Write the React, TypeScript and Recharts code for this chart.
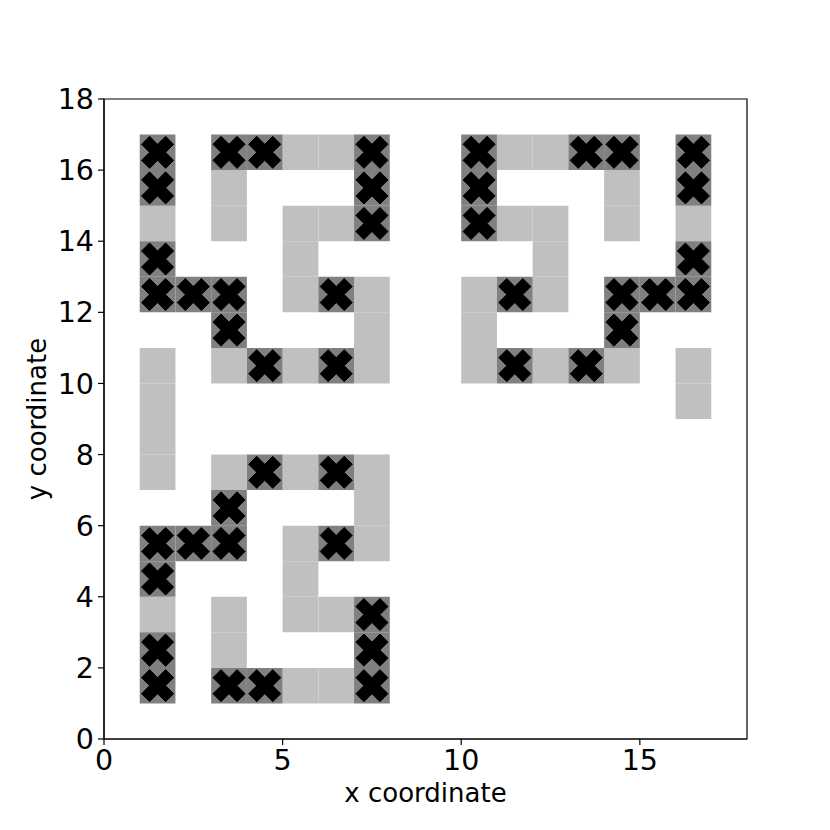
import React from 'react';
import { ScatterChart, Scatter, XAxis, YAxis, ReferenceArea, Label } from 'recharts';

const xTicks = [0, 5, 10, 15];
const yTicks = [0, 2, 4, 6, 8, 10, 12, 14, 16, 18];
const xLabel = 'x coordinate';
const yLabel = 'y coordinate';

// lower-left corners of light grey cells
const lightCells: [number, number][] = [
  // top-left block
  [1, 14], [3, 15], [3, 14], [3, 10], [5, 16], [6, 16], [5, 14], [5, 13], [5, 12], [6, 14], [5, 10], [7, 12], [7, 11], [7, 10],
  // left strip
  [1, 10], [1, 9], [1, 8], [1, 7],
  // bottom-left block
  [1, 3], [3, 2], [3, 3], [3, 7], [5, 1], [6, 1], [5, 3], [5, 4], [5, 5], [6, 3], [5, 7], [7, 5], [7, 6], [7, 7],
  // top-right block
  [16, 14], [14, 15], [14, 14], [14, 10], [12, 16], [11, 16], [12, 14], [12, 13], [12, 12], [11, 14], [12, 10], [10, 12], [10, 11], [10, 10],
  // right strip
  [16, 10], [16, 9],
];

// lower-left corners of dark grey cells (each carries an X marker)
const darkCells: [number, number][] = [
  // top-left block
  [1, 16], [1, 15], [1, 13], [1, 12], [2, 12], [3, 16], [3, 12], [3, 11], [4, 16], [4, 10], [6, 12], [6, 10], [7, 16], [7, 15], [7, 14],
  // bottom-left block
  [1, 1], [1, 2], [1, 4], [1, 5], [2, 5], [3, 1], [3, 5], [3, 6], [4, 1], [4, 7], [6, 5], [6, 7], [7, 1], [7, 2], [7, 3],
  // top-right block
  [16, 16], [16, 15], [16, 13], [16, 12], [15, 12], [14, 16], [14, 12], [14, 11], [13, 16], [13, 10], [11, 12], [11, 10], [10, 16], [10, 15], [10, 14],
];

const markerPoints = darkCells.map(([x, y]) => ({ x: x + 0.5, y: y + 0.5 }));

const FONT = 'DejaVu Sans';

const XMarker = (props: any) => {
  const { cx, cy } = props;
  if (cx == null || cy == null) return null;
  const s = 34 / 6;
  const base = [[-1, -3], [1, -3], [1, -1], [3, -1], [3, 1], [1, 1], [1, 3], [-1, 3], [-1, 1], [-3, 1], [-3, -1], [-1, -1]];
  const c = Math.SQRT1_2;
  const pts = base
    .map(([a, b]) => `${cx + (a * c - b * c) * s},${cy + (a * c + b * c) * s}`)
    .join(' ');
  return <polygon points={pts} fill="#000" stroke="#000" strokeWidth={1} />;
};

export default function App() {
  return (
    <div style={{ position: 'absolute', left: 0, top: 0, width: 830, height: 830, background: '#fff' }}>
      <ScatterChart width={830} height={830} margin={{ top: 99, right: 83, bottom: 0, left: 0 }}>
        <XAxis
          type="number"
          dataKey="x"
          domain={[0, 18]}
          ticks={xTicks}
          height={91}
          tickSize={6}
          tickMargin={5}
          stroke="#000"
          strokeWidth={1.2}
          tick={{ fontSize: 28.5, fill: '#000', fontFamily: FONT }}
          tickLine={{ stroke: '#000', strokeWidth: 1.2 }}
          allowDataOverflow
        >
          <Label
            content={(p: any) => {
              const vb = p.viewBox || {};
              return (
                <text x={vb.x + vb.width / 2} y={vb.y + vb.height - 28} textAnchor="middle" fontSize={26} fontFamily={FONT} fill="#000">
                  {xLabel}
                </text>
              );
            }}
          />
        </XAxis>
        <YAxis
          type="number"
          dataKey="y"
          domain={[0, 18]}
          ticks={yTicks}
          width={104}
          tickSize={6}
          tickMargin={4}
          stroke="#000"
          strokeWidth={1.2}
          tick={{ fontSize: 28.5, fill: '#000', fontFamily: FONT }}
          tickLine={{ stroke: '#000', strokeWidth: 1.2 }}
          allowDataOverflow
        >
          <Label
            content={(p: any) => {
              const vb = p.viewBox || {};
              const cx = 46;
              const cy = vb.y + vb.height / 2;
              return (
                <text x={cx} y={cy} textAnchor="middle" fontSize={26} fontFamily={FONT} fill="#000" transform={`rotate(-90, ${cx}, ${cy})`}>
                  {yLabel}
                </text>
              );
            }}
          />
        </YAxis>
        {lightCells.map(([x, y], i) => (
          <ReferenceArea key={`l${i}`} x1={x} x2={x + 1} y1={y} y2={y + 1} fill="#c0c0c0" fillOpacity={1} stroke="none" />
        ))}
        {darkCells.map(([x, y], i) => (
          <ReferenceArea key={`d${i}`} x1={x} x2={x + 1} y1={y} y2={y + 1} fill="#808080" fillOpacity={1} stroke="none" />
        ))}
        <ReferenceArea x1={0} x2={18} y1={0} y2={18} fill="none" fillOpacity={0} stroke="#000" strokeWidth={1.2} />
        <Scatter data={markerPoints} shape={XMarker} isAnimationActive={false} />
      </ScatterChart>
    </div>
  );
}
